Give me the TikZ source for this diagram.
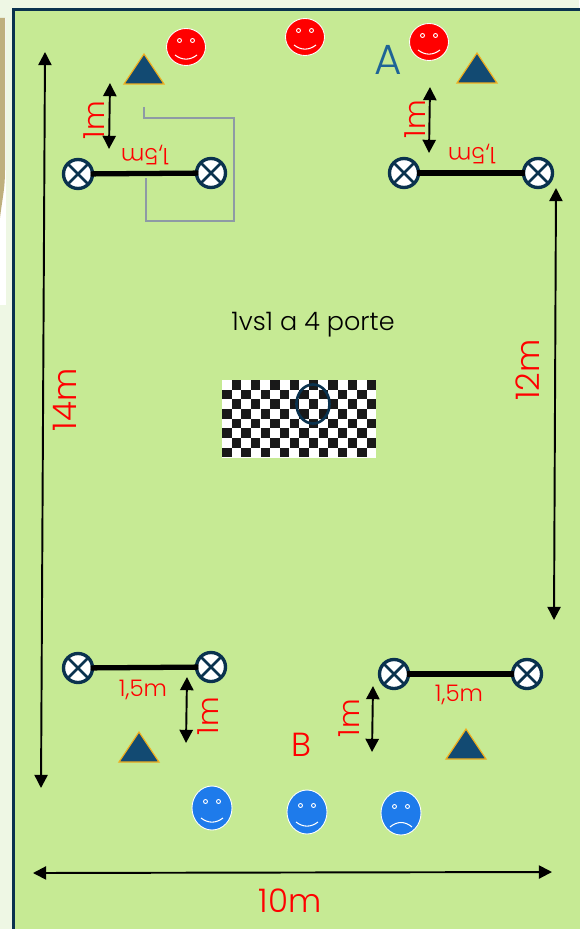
\documentclass[tikz,border=0pt]{standalone}
\usepackage{fontspec}
\setmainfont{Poppins Light}
\usepackage{tikz}
\usetikzlibrary{arrows.meta,calc}
\definecolor{pitch}{RGB}{198,234,148}
\definecolor{pagetint}{RGB}{238,247,228}
\definecolor{rim}{RGB}{10,50,78}
\definecolor{conefill}{RGB}{18,74,114}
\definecolor{coneedge}{RGB}{240,174,30}
\definecolor{teamred}{RGB}{255,0,0}
\definecolor{teamblue}{RGB}{30,123,235}
\definecolor{wire}{RGB}{142,154,165}
\definecolor{labelA}{RGB}{30,100,150}
\definecolor{tan}{RGB}{190,175,125}
\tikzset{
  post/.style={circle,draw=rim,fill=white,line width=1.9pt,minimum size=0.58cm,inner sep=0pt,
    path picture={\draw[rim,line width=1.6pt]
      (path picture bounding box.north west)--(path picture bounding box.south east)
      (path picture bounding box.north east)--(path picture bounding box.south west);}},
  bar/.style={line width=3pt,shorten <=-2pt,shorten >=-2pt},
  dim/.style={{Triangle[length=7.5pt,width=7.5pt]}-{Triangle[length=7.5pt,width=7.5pt]},line width=1.1pt},
  redtext/.style={text=red,font=\fontsize{13}{15}\selectfont},
  midred/.style={text=red,font=\fontsize{16.5}{18}\selectfont},
  bigred/.style={text=red,font=\fontsize{18.5}{20}\selectfont},
  pics/cone/.style={code={
    \filldraw[fill=conefill,draw=coneedge,line width=0.7pt] (-20,0)--(0,-30)--(20,0)--cycle;}},
  pics/face/.style n args={4}{code={
    \path[pic actions,draw=white,line width=0.5pt] (0,0) ellipse [x radius=#1,y radius=#2];
    \path[pic actions,draw=white,line width=0.5pt] (-6.5,-6.5) circle (2) (6.5,-6.5) circle (2);
    \draw[white,line width=0.6pt] (-11,#3) .. controls (-4,#4) and (4,#4) .. (11,#3);}},
}
\begin{document}
\begin{tikzpicture}[x=0.02cm,y=-0.02cm]
\useasboundingbox (0,0) rectangle (579,929);
% page and pitch
\fill[pagetint] (0,0) rectangle (579,929);
\fill[white] (0,18) rectangle (6,305);
\fill[tan] (0,18) -- (5,18) -- (5,170) .. controls (5,190) and (2,200) .. (0,218) -- cycle;
\filldraw[fill=pitch,draw=rim,line width=1.7pt] (13.5,9.5) rectangle (590,940);
% goal posts
\foreach \n/\xa/\ya/\xb/\yb in {
tl/78/174/211/173,tr/404/173/538/173,bl/78/668/211/667,br/394/674/527/674}{
\node[post] (\n a) at (\xa,\ya) {};
\node[post] (\n b) at (\xb,\yb) {};
\draw[bar] (\n a) -- (\n b);
}
% thin outline at the top left post pair
\draw[wire,line width=1pt] (144,107) -- (144,118) -- (234,118) -- (234,221) -- (146,221) -- (146,178);
% cones
\foreach \x/\y in {144/84,477/83,139/762,466/759}{
\pic at (\x,\y) {cone};
}
% players
\foreach \x/\y in {186/47,305/37,429/42}{
\pic[fill=teamred] at (\x,\y) {face={19.5}{18.5}{8}{13.5}};
}
\foreach \x/\y in {212/808,307/812}{
\pic[fill=teamblue] at (\x,\y) {face={20}{22}{10}{15.5}};
}
\pic[fill=teamblue] at (401,813) {face={20}{22}{14}{8}};
% measures
\foreach \n/\xa/\ya/\xb/\yb in {
long/45/52/41/788,short/556/188/554/620,wide/33/873/552/872,
ma/110/83/109/149,mb/430/87/429/153,mc/187/677/186/743,md/373/686/372/752}{
\coordinate (\n a) at (\xa,\ya);
\coordinate (\n b) at (\xb,\yb);
\draw[dim] (\n a) -- (\n b);
}
% checkerboard
\fill[white] (222,380) rectangle (376,458);
\foreach \r in {0,...,7}{
\foreach \c in {0,...,15}{
\pgfmathparse{int(mod(\r+\c,2))}
\ifnum\pgfmathresult=1
\fill[black!90] (222+\c*9.65+0.1,380+\r*9.67+0.1) rectangle ++(9.4,9.4);
\fi
}}
\draw[rim,line width=1.5pt] (313,404) ellipse [x radius=16.5,y radius=19.5];
% labels
\node (title) at (313,325) {\fontsize{14.5}{16}\selectfont 1vs1 a 4 porte};
\node[text=labelA,font=\fontsize{24}{26}\selectfont] (teamA) at (388,60) {A};
\node[text=red,font=\fontsize{19}{21}\selectfont] (teamB) at (301,745) {B};
\node[redtext,rotate=180] (ta) at (145,155) {1,5m};
\node[redtext,rotate=180] (tb) at (472,154) {1,5m};
\node[redtext] (tc) at (143,690) {1,5m};
\node[redtext] (td) at (459,695) {1,5m};
\node[midred,rotate=90] (ua) at (94,120) {1m};
\node[midred,rotate=90] (ub) at (415,119) {1m};
\node[midred,rotate=90] (uc) at (208,716) {1m};
\node[midred,rotate=90] (ud) at (349,718) {1m};
\node[bigred,rotate=90] (ue) at (65,400) {14m};
\node[bigred,rotate=90] (uf) at (528,370) {12m};
\node[bigred] (ug) at (290,901) {10m};
\end{tikzpicture}
\end{document}
